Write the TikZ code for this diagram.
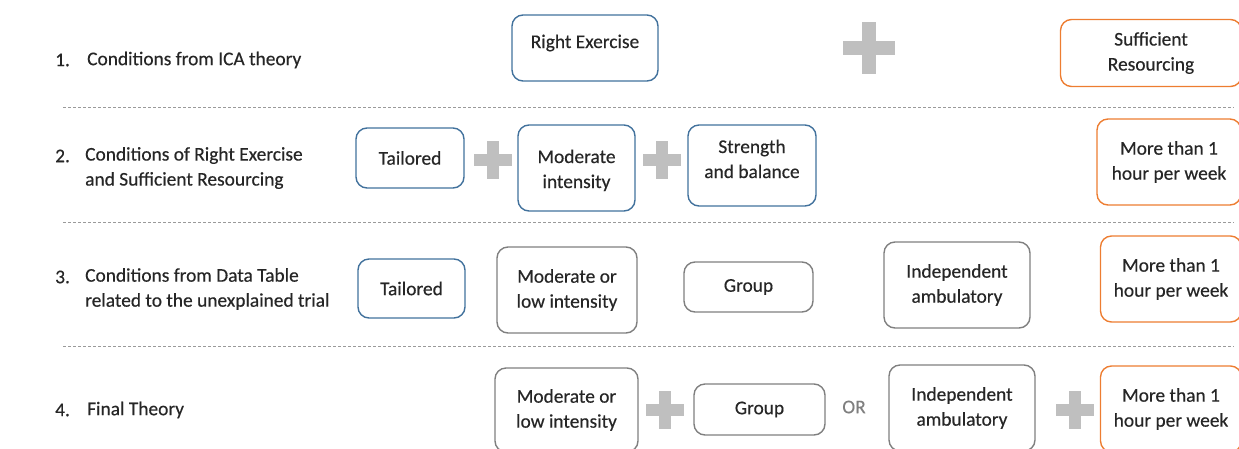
\documentclass[tikz,border=0pt]{standalone}
\usepackage{fontspec}
\setmainfont{Carlito}[BoldFont=Carlito,BoldFeatures={FakeBold=0.4}]
\definecolor{boxblue}{HTML}{41719C}
\definecolor{boxorange}{HTML}{ED7D31}
\definecolor{boxgray}{HTML}{7F7F7F}
\definecolor{plusgray}{HTML}{BFBFBF}
\definecolor{txt}{HTML}{262626}
\definecolor{dashgray}{HTML}{9A9A9A}
\newcommand\plussign[4]{\fill[plusgray] (#1-#3,#2-#4) rectangle (#1+#3,#2+#4);\fill[plusgray] (#1-#4,#2-#3) rectangle (#1+#4,#2+#3);}
\newcommand\twoline[3]{\raisebox{#1}[0pt][0pt]{\begin{tabular}[b]{@{}c@{}}#2\\#3\end{tabular}}}
\begin{document}
\begin{tikzpicture}[x=1pt,y=-1pt,
  every node/.style={text=txt,font=\fontsize{19.4}{25}\selectfont\bfseries,align=center,inner sep=0pt},
  cbox/.style={draw,line width=1.4pt,rounded corners=11pt},
  bluebox/.style={cbox,draw=boxblue},
  orangebox/.style={cbox,draw=boxorange},
  graybox/.style={cbox,draw=boxgray},
  rowlabel/.style={anchor=west,align=left},
  sep/.style={draw=dashgray,line width=0.8pt,dash pattern=on 3pt off 2pt}]
\useasboundingbox (0,0) rectangle (1239,448);
\clip (0,0) rectangle (1239,448);
% row labels
\node[rowlabel] (n1) at (55,60) {1.};
\node[rowlabel] (l1) at (87,60) {Conditions from ICA theory};
\node[rowlabel] (n2) at (55,156) {2.};
\node[rowlabel] (l2) at (85,168) {Conditions of Right Exercise\\and Sufficient Resourcing};
\node[rowlabel] (n3) at (55,277) {3.};
\node[rowlabel] (l3) at (85,289) {Conditions from Data Table\\related to the unexplained trial};
\node[rowlabel] (n4) at (55,410) {4.};
\node[rowlabel] (l4) at (87,410) {Final Theory};
% separators
\coordinate (s1a) at (63,107); \coordinate (s1b) at (1234,107);
\coordinate (s2a) at (63,222); \coordinate (s2b) at (1234,222);
\coordinate (s3a) at (63,346); \coordinate (s3b) at (1234,346);
\draw[sep] (s1a) -- (s1b);
\draw[sep] (s2a) -- (s2b);
\draw[sep] (s3a) -- (s3b);
% row 1
\node[bluebox,minimum width=146pt,minimum height=66pt] (re) at (585,48) {\raisebox{0pt}[0pt][0pt]{Right Exercise}};
\plussign{869}{48}{26}{7}
\node[orangebox,minimum width=181pt,minimum height=67pt] (sr) at (1151,53) {Sufficient\\Resourcing};
% row 2
\node[bluebox,minimum width=108pt,minimum height=60pt] (t2) at (410,158) {Tailored};
\plussign{493}{160}{19}{6}
\node[bluebox,minimum width=117pt,minimum height=86pt] (m2) at (576.5,168) {\twoline{-20pt}{Moderate}{intensity}};
\plussign{662}{160}{19}{6}
\node[bluebox,minimum width=128pt,minimum height=81pt] (sb) at (752,165.5) {\twoline{-12.5pt}{Strength}{and balance}};
\node[orangebox,minimum width=144pt,minimum height=86pt] (h2) at (1169,162) {More than 1\\hour per week};
% row 3
\node[bluebox,minimum width=107pt,minimum height=59pt] (t3) at (411.5,288.5) {Tailored};
\node[graybox,minimum width=140pt,minimum height=86pt] (m3) at (567,290) {Moderate or\\low intensity};
\node[graybox,minimum width=129pt,minimum height=50pt] (g3) at (748.5,287) {Group};
\node[graybox,minimum width=146pt,minimum height=86pt] (i3) at (957,285) {Independent\\ambulatory};
\node[orangebox,minimum width=141pt,minimum height=86pt] (h3) at (1171,279) {More than 1\\hour per week};
% row 4
\node[graybox,minimum width=143pt,minimum height=84pt] (m4) at (566.5,410) {Moderate or\\low intensity};
\plussign{664.5}{409.5}{19}{6}
\node[graybox,minimum width=131pt,minimum height=51pt] (g4) at (759.5,409.5) {Group};
\node[text=boxgray] (or) at (854,407) {OR};
\node[graybox,minimum width=146pt,minimum height=86pt] (i4) at (962,408) {Independent\\ambulatory};
\plussign{1075}{409.5}{19}{6}
\node[orangebox,minimum width=141pt,minimum height=86pt] (h4) at (1171,409) {More than 1\\hour per week};
\end{tikzpicture}
\end{document}
